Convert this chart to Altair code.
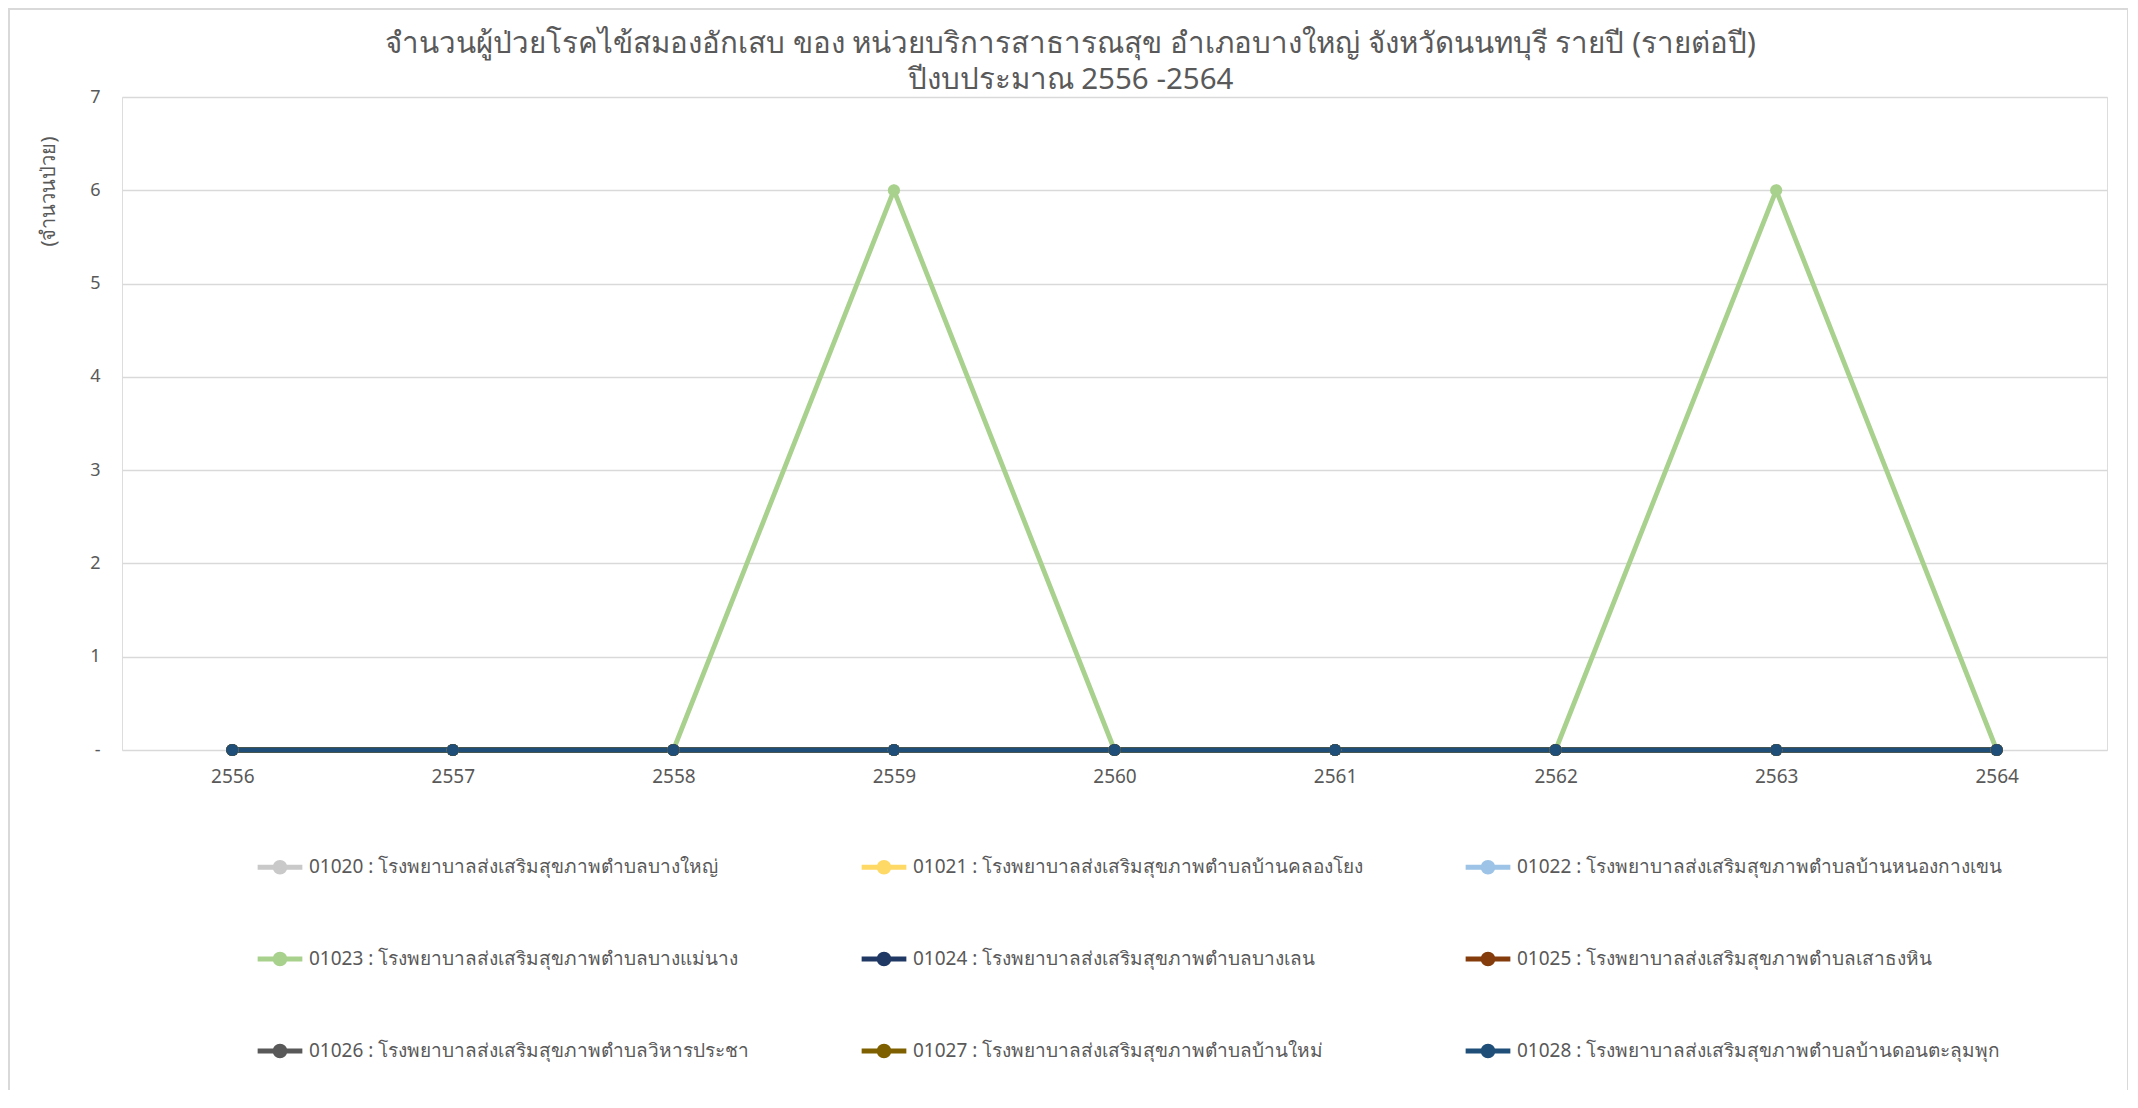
import altair as alt
import pandas as pd

years = ["2556", "2557", "2558", "2559", "2560", "2561", "2562", "2563", "2564"]
series_names = [
    "01020 : โรงพยาบาลส่งเสริมสุขภาพตำบลบางใหญ่",
    "01021 : โรงพยาบาลส่งเสริมสุขภาพตำบลบ้านคลองโยง",
    "01022 : โรงพยาบาลส่งเสริมสุขภาพตำบลบ้านหนองกางเขน",
    "01023 : โรงพยาบาลส่งเสริมสุขภาพตำบลบางแม่นาง",
    "01024 : โรงพยาบาลส่งเสริมสุขภาพตำบลบางเลน",
    "01025 : โรงพยาบาลส่งเสริมสุขภาพตำบลเสาธงหิน",
    "01026 : โรงพยาบาลส่งเสริมสุขภาพตำบลวิหารประชา",
    "01027 : โรงพยาบาลส่งเสริมสุขภาพตำบลบ้านใหม่",
    "01028 : โรงพยาบาลส่งเสริมสุขภาพตำบลบ้านดอนตะลุมพุก",
]
series_colors = ["#C9C9C9", "#FFD966", "#9DC3E6", "#A9D18E", "#203864",
                 "#843C0C", "#595959", "#7F6000", "#1F4E79"]

v01020 = [0, 0, 0, 0, 0, 0, 0, 0, 0]
v01021 = [0, 0, 0, 0, 0, 0, 0, 0, 0]
v01022 = [0, 0, 0, 0, 0, 0, 0, 0, 0]
v01023 = [0, 0, 0, 6, 0, 0, 0, 6, 0]
v01024 = [0, 0, 0, 0, 0, 0, 0, 0, 0]
v01025 = [0, 0, 0, 0, 0, 0, 0, 0, 0]
v01026 = [0, 0, 0, 0, 0, 0, 0, 0, 0]
v01027 = [0, 0, 0, 0, 0, 0, 0, 0, 0]
v01028 = [0, 0, 0, 0, 0, 0, 0, 0, 0]
all_values = [v01020, v01021, v01022, v01023, v01024, v01025, v01026, v01027, v01028]

title_lines = [
    "จำนวนผู้ป่วยโรคไข้สมองอักเสบ ของ หน่วยบริการสาธารณสุข อำเภอบางใหญ่ จังหวัดนนทบุรี รายปี (รายต่อปี)",
    "ปีงบประมาณ 2556 -2564",
]
y_title = "(จำนวนป่วย)"

rows = []
for name, vals in zip(series_names, all_values):
    for y, v in zip(years, vals):
        rows.append({"year": y, "value": v, "series": name})
df = pd.DataFrame(rows)

FONT = "Noto Sans"
W, H = 1985, 653

lines = alt.Chart(df).mark_line(
    strokeWidth=4.8,
    point=alt.OverlayMarkDef(filled=True, size=150, opacity=1),
).encode(
    x=alt.X("year:O", sort=years, scale=alt.Scale(paddingOuter=0.5),
            axis=alt.Axis(title=None, labelAngle=0, ticks=False, domain=False,
                          labelPadding=17, labelFontSize=19, labelColor="#595959",
                          labelFont=FONT)),
    y=alt.Y("value:Q", scale=alt.Scale(domain=[0, 7], nice=False),
            axis=alt.Axis(title=y_title, values=[0, 1, 2, 3, 4, 5, 6, 7],
                          labelExpr="datum.value == 0 ? '-' : datum.label",
                          ticks=False, domain=False, gridColor="#D9D9D9",
                          gridWidth=1.3, labelPadding=22, labelFontSize=18,
                          labelColor="#595959", labelFont=FONT,
                          titleFont=FONT, titleFontSize=20, titleColor="#595959",
                          titleFontWeight="normal", titleAngle=-90,
                          titleX=-74, titleY=94, titleAlign="center",
                          titleBaseline="middle")),
    color=alt.Color("series:N", sort=series_names,
                    scale=alt.Scale(domain=series_names, range=series_colors),
                    legend=alt.Legend(
                        title=None, orient="none", legendX=133, legendY=H + 92,
                        direction="horizontal",
                        columns=3, gridAlign="all", columnPadding=57,
                        rowPadding=52, labelFontSize=19, labelColor="#595959",
                        labelFont=FONT, labelLimit=800, labelOffset=4,
                        symbolType="M-1,0H1M0.22,0A0.22,0.22 0 1,1 -0.22,0A0.22,0.22 0 1,1 0.22,0",
                        symbolSize=2000, symbolStrokeWidth=4.8,
                    )),
    detail="series:N",
)

# thin outer frame of the chart area, as in the reference
border = alt.Chart(alt.Data(values=[{}])).mark_rect(
    filled=False, stroke="#D9D9D9", strokeWidth=2
).encode(
    x=alt.value(-113), x2=alt.value(2006),
    y=alt.value(-88), y2=alt.value(H + 400),
)

chart = alt.layer(border, lines).properties(
    width=W, height=H,
    title=alt.Title(text=title_lines, fontSize=29.5, font=FONT, color="#595959",
                    fontWeight="normal", anchor="middle", frame="group",
                    dx=-44, offset=-87.5, lineHeight=36),
    autosize=alt.AutoSizeParams(type="none"),
    padding={"left": 114, "top": 89, "right": 21, "bottom": 340},
).configure_view(stroke=None).configure(background="white")

chart.save("out.html", embed_options={"renderer": "svg", "actions": False})
